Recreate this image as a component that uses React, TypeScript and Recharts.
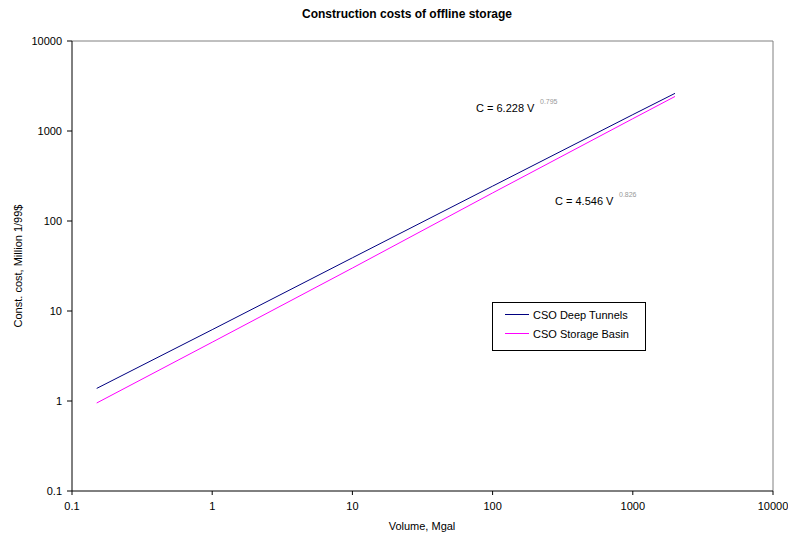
import React from 'react'
import { Line, LineChart, ReferenceLine, XAxis, YAxis } from 'recharts'

const volumes = [0.15, 1, 10, 100, 1000, 2000]
const deepTunnels = [1.38, 6.2, 39, 244, 1520, 2620]
const storageBasin = [0.95, 4.5, 30, 205, 1370, 2420]
const xTicks = [0.1, 1, 10, 100, 1000, 10000]
const yTicks = [0.1, 1, 10, 100, 1000, 10000]
const seriesNames = ['CSO Deep Tunnels', 'CSO Storage Basin']
const seriesColors = ['#000080', '#ff00ff']

const tunnelData = volumes.map((v, i) => ({ v, c: deepTunnels[i] }))
const basinData = volumes.map((v, i) => ({ v, c: storageBasin[i] }))

const font = '"Liberation Sans", Arial, sans-serif'
const tickStyle = { fontSize: 11, fill: '#000', fontFamily: font }

export default function App() {
  return (
    <div style={{ position: 'absolute', left: 0, top: 0, width: 788, height: 536, background: '#fff', fontFamily: font }}>
      <div style={{ position: 'absolute', left: 0, width: 814, top: 7, textAlign: 'center', fontWeight: 'bold', fontSize: 12 }}>
        Construction costs of offline storage
      </div>
      <LineChart width={788} height={536} margin={{ top: 41, right: 15, bottom: 0, left: 0 }}>
        <XAxis
          dataKey="v"
          type="number"
          scale="log"
          domain={[0.1, 10000]}
          ticks={xTicks}
          allowDataOverflow
          height={45}
          tick={tickStyle}
          tickSize={4}
          tickMargin={7}
          stroke="#000"
          interval={0}
        />
        <YAxis
          dataKey="c"
          type="number"
          scale="log"
          domain={[0.1, 10000]}
          ticks={yTicks}
          allowDataOverflow
          width={72}
          tick={tickStyle}
          tickSize={5}
          tickMargin={5}
          stroke="#000"
          interval={0}
        />
        <ReferenceLine y={10000} stroke="#808080" />
        <ReferenceLine x={10000} stroke="#808080" />
        <Line data={tunnelData} dataKey="c" name={seriesNames[0]} stroke={seriesColors[0]} dot={false} isAnimationActive={false} strokeWidth={1} />
        <Line data={basinData} dataKey="c" name={seriesNames[1]} stroke={seriesColors[1]} dot={false} isAnimationActive={false} strokeWidth={1} />
      </LineChart>
      <div
        style={{
          position: 'absolute',
          left: 492,
          top: 302,
          border: '1px solid #000',
          background: '#fff',
          width: 154,
          height: 49,
          boxSizing: 'border-box',
          padding: '2px 0 0 12px',
          fontSize: 11,
        }}
      >
        {seriesNames.map((n, i) => (
          <div key={n} style={{ display: 'flex', alignItems: 'center', height: 19 }}>
            <span style={{ display: 'inline-block', width: 24, height: 1, background: seriesColors[i], marginRight: 4 }} />
            {n}
          </div>
        ))}
      </div>
      <div style={{ position: 'absolute', left: 476, top: 102, fontSize: 11 }}>C = 6.228 V</div>
      <div style={{ position: 'absolute', left: 540, top: 98, fontSize: 7, color: '#999' }}>0.795</div>
      <div style={{ position: 'absolute', left: 555, top: 195, fontSize: 11 }}>C = 4.546 V</div>
      <div style={{ position: 'absolute', left: 619, top: 191, fontSize: 7, color: '#999' }}>0.826</div>
      <div style={{ position: 'absolute', left: 0, width: 844, top: 520, textAlign: 'center', fontSize: 11 }}>Volume, Mgal</div>
      <div
        style={{
          position: 'absolute',
          left: 18,
          top: 266,
          fontSize: 11,
          whiteSpace: 'nowrap',
          transform: 'translate(-50%, -50%) rotate(-90deg)',
        }}
      >
        Const. cost, Million 1/99$
      </div>
    </div>
  )
}
